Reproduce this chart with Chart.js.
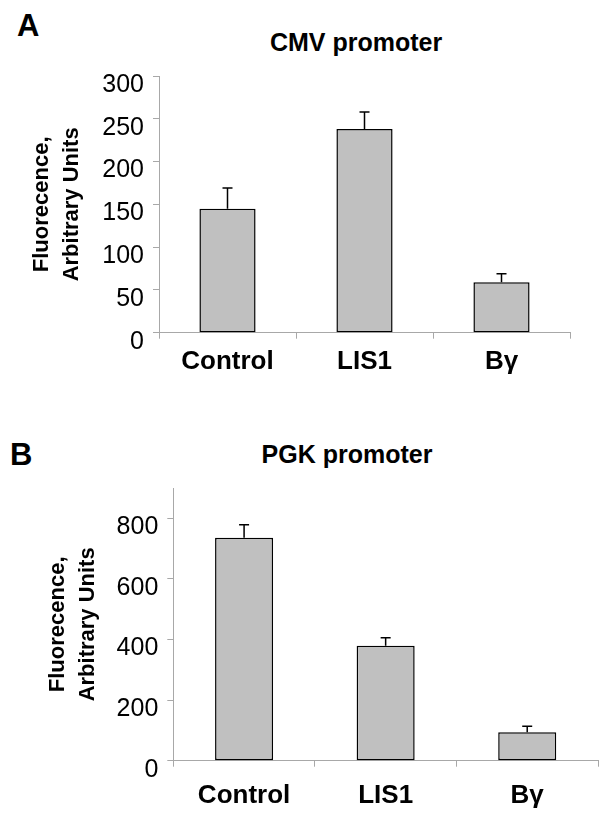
<!DOCTYPE html>
<html>
<head>
<meta charset="utf-8">
<script src="https://cdn.jsdelivr.net/npm/chart.js@4"></script>
<style>
  body { margin: 0; background: #fff; font-family: 'Liberation Sans', Arial, sans-serif; }
  #page { position: relative; width: 600px; height: 818px; overflow: hidden; }
  canvas { position: absolute; left: 0; }
  .txt { position: absolute; font-weight: bold; color: #000; white-space: nowrap; }
  .letter { font-size: 31px; line-height: 31px; }
  .title { font-size: 25px; line-height: 25px; transform: translateX(-50%); }
</style>
</head>
<body>
<div id="page">
  <div class="txt letter" style="left:17px; top:10px;">A</div>
  <div class="txt title" style="left:356px; top:30px;">CMV promoter</div>
  <canvas id="cmvChart" width="600" height="409" style="top:0;"></canvas>

  <div class="txt letter" style="left:10px; top:439px;">B</div>
  <div class="txt title" style="left:347px; top:442px;">PGK promoter</div>
  <canvas id="pgkChart" width="600" height="409" style="top:409px;"></canvas>
</div>

<script>
const categories = ['Control', 'LIS1', 'Bγ'];

const cmvValues = [145, 238, 59];
const cmvErrors = [24, 20, 10];

const pgkValues = [736, 379, 94];
const pgkErrors = [43, 27, 20];

const cmvTicks = [0, 50, 100, 150, 200, 250, 300];
const pgkTicks = [0, 200, 400, 600, 800];

const yTitle = ['Fluorecence,', 'Arbitrary Units'];
const fontFamily = "'Liberation Sans', Arial, sans-serif";

// upper error bars, drawn from the bar top through the y scale
const errorBars = {
    id: 'errorBars',
    afterDatasetsDraw(chart, args, opts) {
        const ctx = chart.ctx;
        const y = chart.scales.y;
        const meta = chart.getDatasetMeta(0);
        const values = chart.data.datasets[0].data;
        ctx.save();
        ctx.strokeStyle = '#000';
        ctx.lineWidth = 1.5;
        meta.data.forEach((bar, i) => {
            const top = y.getPixelForValue(values[i] + opts.errors[i]);
            ctx.beginPath();
            ctx.moveTo(bar.x, bar.y);
            ctx.lineTo(bar.x, top);
            ctx.moveTo(bar.x - 5, top);
            ctx.lineTo(bar.x + 5, top);
            ctx.stroke();
        });
        ctx.restore();
    }
};

function makeChart(id, values, errors, ticks, layout) {
    return new Chart(document.getElementById(id), {
        type: 'bar',
        data: {
            labels: categories,
            datasets: [{
                data: values,
                backgroundColor: '#c0c0c0',
                borderColor: '#000',
                borderWidth: 1.5,
                borderSkipped: false,
                barPercentage: 0.41,
                categoryPercentage: 1
            }]
        },
        options: {
            responsive: false,
            animation: false,
            events: [],
            layout: {
                padding: { left: layout.left, top: layout.top, right: layout.right, bottom: 0 }
            },
            plugins: {
                legend: { display: false },
                tooltip: { enabled: false },
                errorBars: { errors: errors }
            },
            scales: {
                x: {
                    offset: true,
                    grid: { display: true, drawOnChartArea: false, color: '#a8a8a8', tickLength: 6, offset: true },
                    border: { display: true, color: '#a8a8a8', width: 1 },
                    ticks: {
                        color: '#000',
                        padding: layout.xPad,
                        font: { family: fontFamily, size: 26, weight: 'bold' }
                    },
                    afterFit: (scale) => { scale.height = layout.xHeight; }
                },
                y: {
                    min: 0,
                    max: layout.max,
                    grid: { drawOnChartArea: false, color: '#a8a8a8', tickLength: 6 },
                    border: { display: true, color: '#a8a8a8', width: 1 },
                    ticks: {
                        stepSize: ticks[1] - ticks[0],
                        color: '#000',
                        padding: 9,
                        labelOffset: 9,
                        font: { family: fontFamily, size: 25 }
                    },
                    afterBuildTicks: (scale) => {
                        scale.ticks = ticks.map(v => ({ value: v }));
                    },
                    title: {
                        display: true,
                        text: yTitle,
                        color: '#000',
                        padding: 0,
                        font: { family: fontFamily, size: 22, weight: 'bold', lineHeight: 1.35 }
                    },
                    afterFit: (scale) => { scale.width = layout.yWidth; }
                }
            }
        },
        plugins: [errorBars]
    });
}

makeChart('cmvChart', cmvValues, cmvErrors, cmvTicks,
    { left: 27, top: 76, right: 30, max: 300, yWidth: 132, xHeight: 76.3, xPad: 8 });

makeChart('pgkChart', pgkValues, pgkErrors, pgkTicks,
    { left: 43, top: 79, right: 2, max: 900, yWidth: 130.3, xHeight: 57.3, xPad: 14 });
</script>
</body>
</html>
